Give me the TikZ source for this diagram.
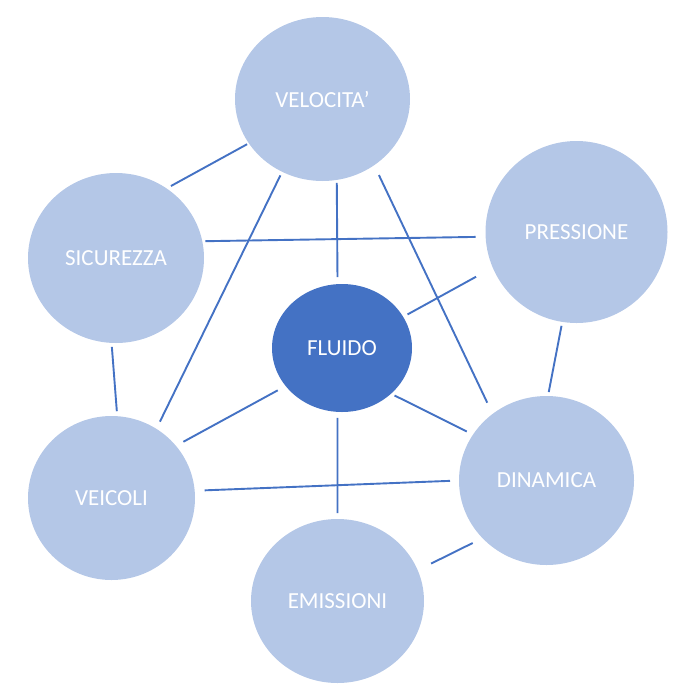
\documentclass[tikz,border=0pt]{standalone}
\usepackage{fontspec}
\setmainfont{Carlito}
\usetikzlibrary{shapes.geometric}
\definecolor{lightblob}{HTML}{B4C7E7}
\definecolor{darkblob}{HTML}{4472C4}
\definecolor{linkcol}{HTML}{4472C4}
\tikzset{
  blob/.style={ellipse, fill=lightblob, draw=none, inner sep=0pt, outer sep=0pt,
    text=white, font=\fontsize{23}{28}\selectfont},
  coreblob/.style={blob, fill=darkblob},
  conn/.style={draw=linkcol, line width=1.9pt}
}
\begin{document}
\begin{tikzpicture}[x=1pt, y=-1pt]
\useasboundingbox (0,0) rectangle (688,686);
\node[blob, minimum width=175pt, minimum height=164pt] (vel) at (322.5,99) {VELOCITA’};
\node[blob, minimum width=182pt, minimum height=182pt] (pre) at (576.5,232) {PRESSIONE};
\node[blob, minimum width=176pt, minimum height=170pt] (sic) at (116,258) {SICUREZZA};
\node[coreblob, minimum width=140pt, minimum height=128pt] (flu) at (342,348) {FLUIDO};
\node[blob, minimum width=167pt, minimum height=164pt] (vei) at (111.5,498) {VEICOLI};
\node[blob, minimum width=175pt, minimum height=169pt] (din) at (546.5,480.5) {DINAMICA};
\node[blob, minimum width=173pt, minimum height=164pt] (emi) at (337.5,601) {EMISSIONI};

\draw[conn, shorten <=2pt, shorten >=5pt] (vel.211) -- (sic.54);
\draw[conn, shorten <=4pt, shorten >=8pt] (vel.241) -- (vei.57);
\draw[conn, shorten <=3pt, shorten >=7pt] (vel.280) -- (flu.94);
\draw[conn, shorten <=11pt, shorten >=12.5pt] (vel.308) -- (din.129);
\draw[conn, shorten <=3pt, shorten >=10pt] (sic.11) -- (pre.183);
\draw[conn, shorten <=19pt, shorten >=5pt] (pre.203) -- (flu.27);
\draw[conn, shorten <=4pt, shorten >=4pt] (pre.261) -- (din.89);
\draw[conn, shorten <=4pt, shorten >=5pt] (sic.267) -- (vei.86);
\draw[conn, shorten <=9pt, shorten >=8.5pt] (flu.214) -- (vei.39);
\draw[conn, shorten <=4pt, shorten >=7pt] (flu.317) -- (din.148);
\draw[conn, shorten <=6pt, shorten >=6pt] (flu.266) -- (emi.90);
\draw[conn, shorten <=10pt, shorten >=9pt] (vei.5) -- (din.180);
\draw[conn, shorten <=11pt, shorten >=15pt] (din.222) -- (emi.21);
\end{tikzpicture}
\end{document}
